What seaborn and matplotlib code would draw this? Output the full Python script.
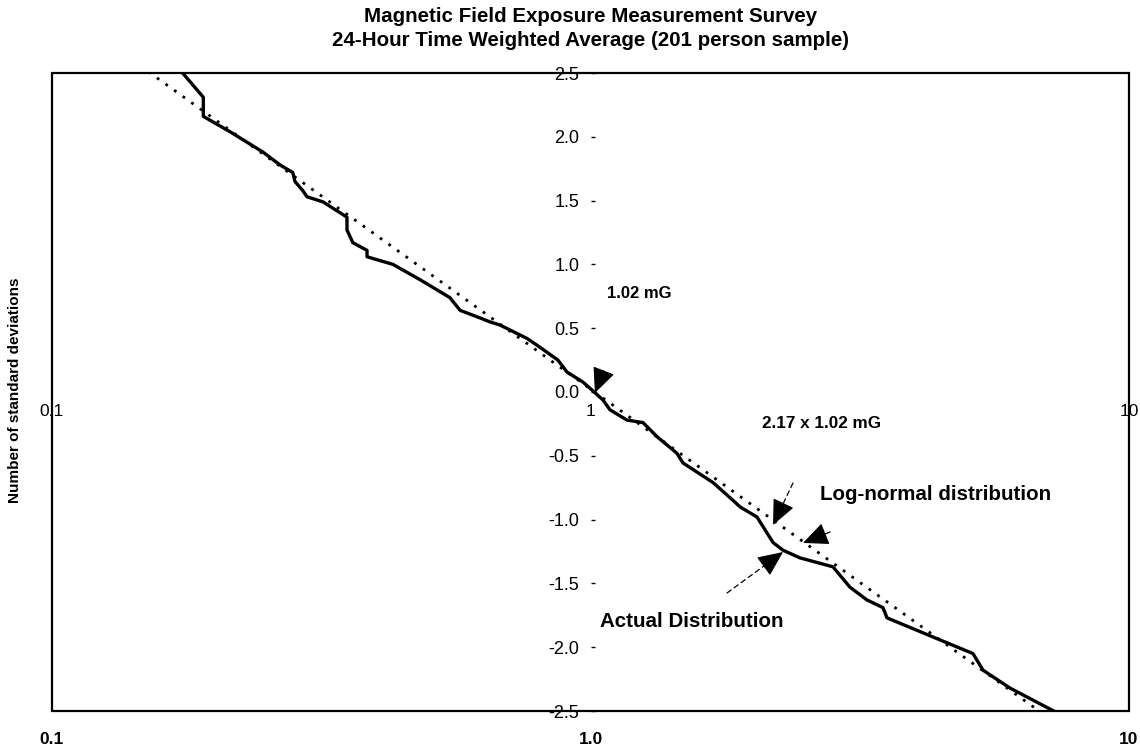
import matplotlib
matplotlib.use("Agg")
import matplotlib.pyplot as plt
import numpy as np
import pandas as pd
import seaborn as sns
from matplotlib.patches import Rectangle
from matplotlib.ticker import NullLocator

# ---- data ----
actual_x = [0.174, 0.191, 0.191, 0.214, 0.2465, 0.265, 0.280, 0.2826, 0.292, 0.2975,
            0.3186, 0.353, 0.353, 0.362, 0.3846, 0.3846, 0.4297, 0.4825, 0.548, 0.5726,
            0.624, 0.650, 0.679, 0.762, 0.806, 0.870, 0.904, 0.968, 1.006, 1.055,
            1.087, 1.169, 1.252, 1.329, 1.447, 1.485, 1.689, 1.84, 1.895, 2.038,
            2.183, 2.278, 2.449, 2.82, 3.033, 3.262, 3.493, 3.553, 4.325, 5.132,
            5.357, 6.01, 7.4]
actual_y = [2.51, 2.31, 2.16, 2.04, 1.88, 1.78, 1.72, 1.65, 1.58, 1.53,
            1.49, 1.37, 1.27, 1.17, 1.11, 1.06, 1.00, 0.88, 0.74, 0.64,
            0.58, 0.55, 0.525, 0.42, 0.35, 0.25, 0.157, 0.078, 0.016, -0.063,
            -0.14, -0.22, -0.24, -0.35, -0.48, -0.556, -0.71, -0.85, -0.90, -0.98,
            -1.18, -1.24, -1.30, -1.37, -1.53, -1.63, -1.69, -1.77, -1.92, -2.05,
            -2.18, -2.32, -2.52]
fit_x = [0.151, 7.29]
fit_y = [2.51, -2.59]

y_ticks = [2.5, 2.0, 1.5, 1.0, 0.5, 0.0, -0.5, -1.0, -1.5, -2.0, -2.5]
x_ticks = [0.1, 1, 10]
center_x_labels = ["0.1", "1", "10"]
bottom_x_labels = ["0.1", "1.0", "10"]

title_lines = ["Magnetic Field Exposure Measurement Survey",
               "24-Hour Time Weighted Average (201 person sample)"]
y_label = "Number of standard deviations"

# ---- styling ----
sns.set_theme(style="white")
plt.rcParams["font.family"] = ["Liberation Sans", "DejaVu Sans"]
plt.rcParams["axes.unicode_minus"] = False
plt.rcParams["text.color"] = "black"
plt.rcParams["axes.labelcolor"] = "black"
plt.rcParams["xtick.color"] = "black"
plt.rcParams["ytick.color"] = "black"

W, H = 1140, 746
fig = plt.figure(figsize=(W / 100, H / 100), dpi=100)
L, R, T, B = 52, 1129, 73, 711
ax = fig.add_axes([L / W, 1 - B / H, (R - L) / W, (B - T) / H])
ax.set_facecolor("white")

df_act = pd.DataFrame({"x": actual_x, "y": actual_y})
df_fit = pd.DataFrame({"x": fit_x, "y": fit_y})
sns.lineplot(data=df_fit, x="x", y="y", sort=False, estimator=None, ax=ax,
             color="black", lw=2.0, linestyle=(0, (1, 2.8)))
sns.lineplot(data=df_act, x="x", y="y", sort=False, estimator=None, ax=ax,
             color="black", lw=2.4)

ax.set_xscale("log")
ax.set_xlim(0.1, 10)
ax.set_ylim(-2.5, 2.5)
ax.set_xlabel("")
ax.set_ylabel("")

# y axis crossing at x = 1, x axis crossing at y = 0
ax.spines["left"].set_position(("data", 1.0))
ax.spines["left"].set_visible(False)
ax.spines["bottom"].set_position(("data", 0.0))
ax.spines["bottom"].set_visible(False)
ax.spines["top"].set_visible(False)
ax.spines["right"].set_visible(False)

ax.set_yticks(y_ticks)
ax.set_yticklabels([f"{v:.1f}" for v in y_ticks])
ax.tick_params(axis="y", direction="in", length=3, width=1, pad=8,
               labelsize=13, colors="black", left=True)

ax.set_xticks(x_ticks)
ax.set_xticklabels(center_x_labels)
ax.xaxis.set_minor_locator(NullLocator())
ax.tick_params(axis="x", length=0, pad=9, labelsize=12.5, colors="black", bottom=True)

sec = ax.secondary_xaxis("bottom")
sec.set_xticks(x_ticks)
sec.set_xticklabels(bottom_x_labels)
sec.xaxis.set_minor_locator(NullLocator())
sec.tick_params(axis="x", length=0, pad=15, labelsize=12.5, colors="black")
for lab in sec.get_xticklabels():
    lab.set_fontweight("bold")
sec.spines["bottom"].set_visible(False)

ax.add_patch(Rectangle((0, 0), 1, 1, transform=ax.transAxes, fill=False,
                       edgecolor="black", lw=1.6, clip_on=False, zorder=5))

# titles
fig.text(590.5 / W, 1 - 16 / H, title_lines[0], ha="center", va="center",
         fontsize=14.8, fontweight="bold")
fig.text(590.5 / W, 1 - 40 / H, title_lines[1], ha="center", va="center",
         fontsize=14.8, fontweight="bold")
fig.text(15 / W, 1 - 390 / H, y_label, rotation=90, ha="center", va="center",
         fontsize=11, fontweight="bold")

# annotations
ax.text(1.073, 0.77, "1.02 mG", ha="left", va="center", fontsize=12, fontweight="bold")
ax.text(2.082, -0.243, "2.17 x 1.02 mG", ha="left", va="center", fontsize=12.3, fontweight="bold")
ax.text(2.668, -0.80, "Log-normal distribution", ha="left", va="center", fontsize=14.8, fontweight="bold")
ax.text(2.28, -1.795, "Actual Distribution", ha="right", va="center", fontsize=14.8, fontweight="bold")


def arrow(tail, tip, head_px=22):
    # dashed shaft + solid filled head
    p_tail = ax.transData.transform(tail)
    p_tip = ax.transData.transform(tip)
    d = p_tip - p_tail
    n = np.hypot(*d)
    p_base = p_tip - d / n * min(head_px + 2, n)
    base = ax.transData.inverted().transform(p_base)
    if n > head_px + 4:
        ax.annotate("", xy=tuple(base), xytext=tail,
                    arrowprops=dict(arrowstyle="-", color="black", lw=0.9,
                                    linestyle=(0, (4, 3)), shrinkA=0, shrinkB=0))
    ax.annotate("", xy=tip, xytext=tuple(base),
                arrowprops=dict(arrowstyle="-|>,head_length=1.0,head_width=0.45",
                                color="black", lw=0.8, shrinkA=0, shrinkB=0,
                                mutation_scale=16))


arrow((1.059, 0.172), (1.019, -0.008))
arrow((2.377, -0.713), (2.183, -1.042))
arrow((2.785, -1.097), (2.481, -1.183))
arrow((1.793, -1.575), (2.278, -1.254))

fig.savefig("out.png", dpi=100, facecolor="white")
